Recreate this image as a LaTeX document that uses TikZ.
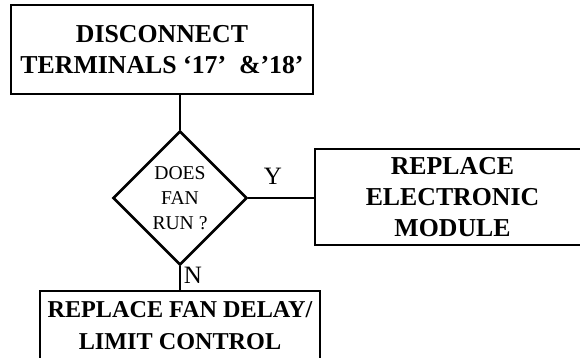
\documentclass[tikz,border=0pt]{standalone}
\usepackage{fontspec}
\setmainfont{Liberation Serif}
\usetikzlibrary{shapes.geometric}
\tikzset{
  stepbox/.style={draw,inner sep=0pt,align=center,font=\bfseries\fontsize{12.9}{15.5}\selectfont},
  askbox/.style={draw,diamond,inner sep=0pt,minimum size=67pt,align=center,font=\fontsize{9.8}{12.5}\selectfont},
  answer/.style={inner sep=0pt,font=\fontsize{12.5}{15}\selectfont}
}
\begin{document}
\begin{tikzpicture}[x=0.5pt,y=0.5pt,line width=1.3pt]
  \clip (0,0) rectangle (580,358);
  \node[stepbox,minimum width=151pt,minimum height=44.5pt] (disc) at (162,308.5) {DISCONNECT\\TERMINALS ‘17’~~\&’18’};
  \node[askbox] (fan) at (180,160) {DOES\\FAN\\RUN ?};
  \node[stepbox,minimum width=137.5pt,minimum height=48pt] (module) at (452.5,161) {REPLACE\\ELECTRONIC\\MODULE};
  \node[stepbox,minimum width=140pt,minimum height=34.5pt,font=\bfseries\fontsize{12.1}{16}\selectfont] (limit) at (180,32.5) {REPLACE FAN DELAY/\\LIMIT CONTROL};
  \draw (fan.north |- disc.south) -- (fan.north);
  \draw (fan.east) -- (fan.east -| module.west);
  \draw (fan.south) -- (limit.north);
  \node[answer] (yes) at (273,182) {Y};
  \node[answer] (no) at (193,83) {N};
\end{tikzpicture}
\end{document}
